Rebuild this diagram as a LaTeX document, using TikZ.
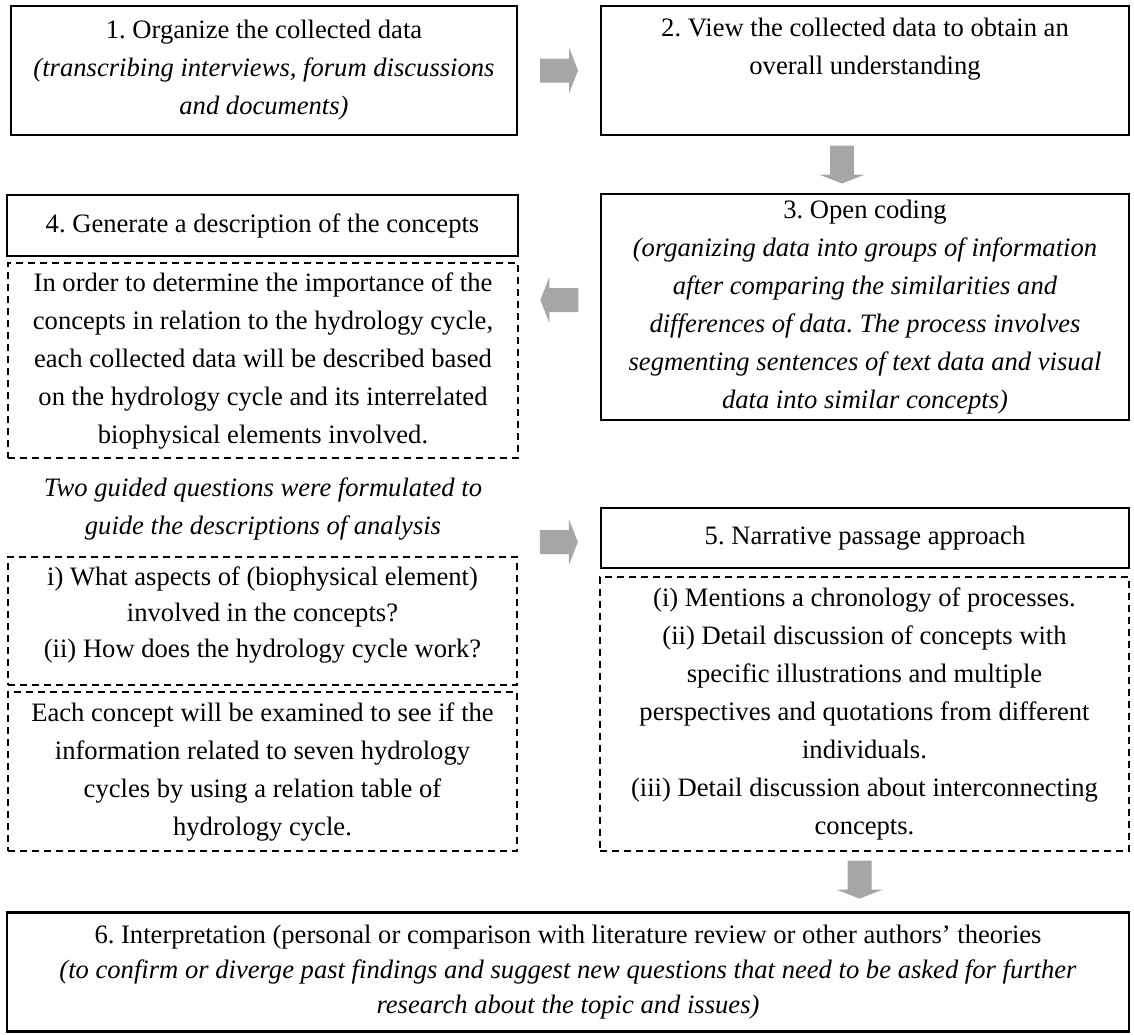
\documentclass[tikz,border=0pt]{standalone}
\usepackage{fontspec}
\setmainfont{Liberation Serif}
\frenchspacing
\usetikzlibrary{calc}
\definecolor{arrowgray}{HTML}{A6A6A6}
\tikzset{
  txt/.style={font=\fontsize{13.3pt}{19pt}\selectfont, align=center, inner sep=0pt},
  solidbox/.style={txt, draw, line width=1.2pt},
  dashbox/.style={txt, draw, line width=0.9pt, dash pattern=on 3.5pt off 2.5pt},
  grayarrow/.style={fill=arrowgray, draw=none}
}
\newcommand\blockarrow[2]{%
  \fill[grayarrow, shift={#1}, rotate=#2] (-19,-12) -- (10,-12) -- (10,-23) -- (19,0) -- (10,23) -- (10,12) -- (-19,12) -- cycle;}
\begin{document}
\begin{tikzpicture}[x=0.5pt,y=-0.5pt]
\useasboundingbox (0,0) rectangle (1134,1034);

\node[solidbox, minimum width=253pt, minimum height=64.5pt] (b1) at (264,70.5)
  {1. Organize the collected data\\
   \textit{(transcribing interviews, forum discussions}\\
   \textit{and documents)}};
\node[solidbox, minimum width=264pt, minimum height=64.5pt] (b2) at (865,70.5)
  {2. View the collected data to obtain an\\
   overall understanding\\ \strut};
\node[solidbox, minimum width=264pt, minimum height=113pt] (b3) at (865,307)
  {3. Open coding\\
   \textit{(organizing data into groups of information}\\
   \textit{after comparing the similarities and}\\
   \textit{differences of data. The process involves}\\
   \textit{segmenting sentences of text data and visual}\\
   \textit{data into similar concepts)}};
\node[solidbox, minimum width=255.5pt, minimum height=30.5pt] (b4) at (262.5,225.5)
  {4. Generate a description of the concepts};
\node[dashbox, minimum width=255pt, minimum height=97.5pt] (d4) at (263,360.5)
  {In order to determine the importance of the\\
   concepts in relation to the hydrology cycle,\\
   each collected data will be described based\\
   on the hydrology cycle and its interrelated\\
   biophysical elements involved.};
\node[txt] (guide) at (263,509)
  {\textit{Two guided questions were formulated to}\\
   \textit{guide the descriptions of analysis}};
\node[dashbox, minimum width=254.5pt, minimum height=64pt] (dq) at (262.5,621) {};
\node[txt, anchor=north, font=\fontsize{13.3pt}{18pt}\selectfont] (dqt) at (262.5,566)
  {i) What aspects of (biophysical element)\\
   involved in the concepts?\\
   (ii) How does the hydrology cycle work?};
\node[dashbox, minimum width=254.5pt, minimum height=79.5pt] (de) at (262.5,771.5)
  {Each concept will be examined to see if the\\
   information related to seven hydrology\\
   cycles by using a relation table of\\
   hydrology cycle.};
\node[solidbox, minimum width=264pt, minimum height=30pt] (b5) at (865,538)
  {5. Narrative passage approach};
\node[dashbox, minimum width=264.5pt, minimum height=137pt] (d5) at (864.5,714)
  {(i) Mentions a chronology of processes.\\
   (ii) Detail discussion of concepts with\\
   specific illustrations and multiple\\
   perspectives and quotations from different\\
   individuals.\\
   (iii) Detail discussion about interconnecting\\
   concepts.};
\node[solidbox, minimum width=561pt, minimum height=59.5pt,
      font=\fontsize{13.3pt}{17.5pt}\selectfont] (b6) at (568,972)
  {6. Interpretation (personal or comparison with literature review or other authors’ theories\\
   \textit{(to confirm or diverge past findings and suggest new questions that need to be asked for further}\\
   \textit{research about the topic and issues)}};

\coordinate (a12) at ($(b1.east)!0.5!(b2.west)$);
\coordinate (a23) at ($(b2.south)!0.5!(b3.north) + (-23,0)$);
\coordinate (a34) at ($(b3.west |- 0,300)!0.5!(d4.east |- 0,300)$);
\coordinate (a45) at ($(dq.east |- 0,542)!0.5!(b5.west |- 0,542)$);
\coordinate (a56) at ($(d5.south)!0.5!(d5.south |- b6.north) + (-5,-2)$);
\blockarrow{(a12)}{0}
\blockarrow{(a23)}{-90}
\blockarrow{(a34)}{180}
\blockarrow{(a45)}{0}
\blockarrow{(a56)}{-90}
\end{tikzpicture}
\end{document}
